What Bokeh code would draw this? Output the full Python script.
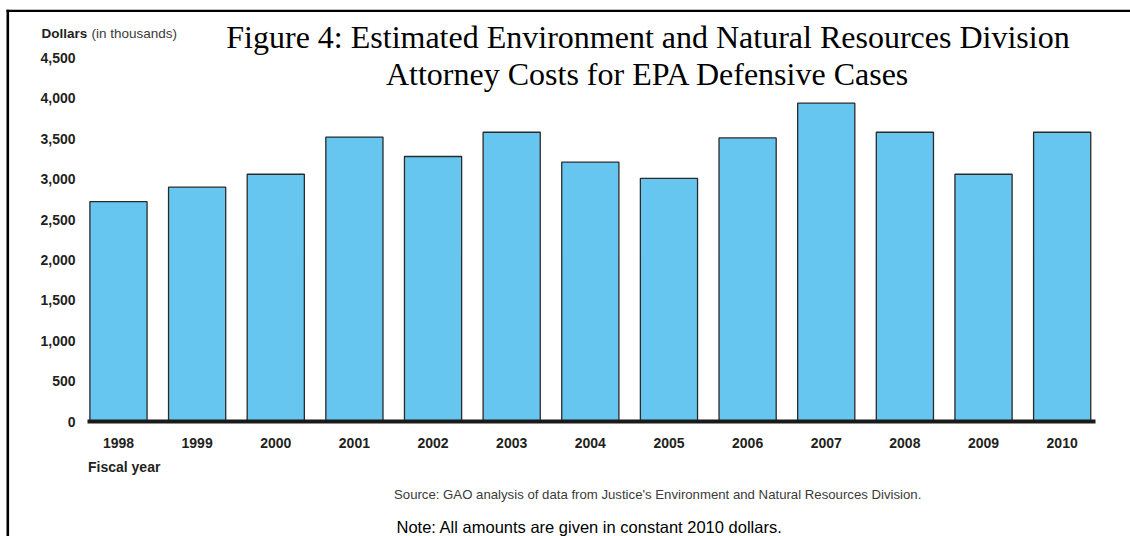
from bokeh.plotting import figure
from bokeh.models import Range1d, FixedTicker, NumeralTickFormatter, Label, BoxAnnotation
from bokeh.embed import file_html
from bokeh.resources import INLINE

# ---- data ----
years = ["1998", "1999", "2000", "2001", "2002", "2003", "2004",
         "2005", "2006", "2007", "2008", "2009", "2010"]
costs = [2720, 2900, 3060, 3520, 3280, 3580, 3210, 3010, 3510, 3940, 3580, 3060, 3580]
y_ticks = [0, 500, 1000, 1500, 2000, 2500, 3000, 3500, 4000, 4500]
title_line1 = "Figure 4: Estimated Environment and Natural Resources Division"
title_line2 = "Attorney Costs for EPA Defensive Cases"
y_label_bold = "Dollars"
y_label_rest = "(in thousands)"
x_label = "Fiscal year"
source_text = "Source: GAO analysis of data from Justice's Environment and Natural Resources Division."
note_text = "Note: All amounts are given in constant 2010 dollars."

x_pos = list(range(len(years)))

SANS = "Liberation Sans"
SERIF = "Liberation Serif"

# ---- layout (canvas pixels; canvas = whole page) ----
W, H = 1130, 536
PX_PER_X = 78.64          # pixels per category step
PX_PER_Y = 0.0808         # pixels per thousand dollars
AX_LEFT_PX = 87           # where the value axis sits
AX_BOTTOM_PX = 421        # where the category axis sits (from top)
AX_RIGHT_PX = 1095
X0 = -0.394               # data x at the value axis


def xd(px):
    return X0 + (px - AX_LEFT_PX) / PX_PER_X


def yd(py):
    return (AX_BOTTOM_PX - py) / PX_PER_Y


p = figure(width=W, height=H, output_backend="svg", toolbar_location=None,
           x_range=Range1d(xd(0), xd(W)), y_range=Range1d(yd(H), yd(0)),
           min_border=0)
p.min_border_left = 0
p.min_border_right = 0
p.min_border_top = 0
p.min_border_bottom = 0

p.vbar(x=x_pos, top=costs, bottom=0, width=0.727,
       fill_color="#66C6EF", line_color="#2a2a2a", line_width=1.3)

p.outline_line_color = None
p.xgrid.grid_line_color = None
p.ygrid.grid_line_color = None
p.background_fill_color = "white"
p.border_fill_color = "white"

# y axis
p.yaxis.fixed_location = X0
p.yaxis.bounds = (0, y_ticks[-1])
p.yaxis.ticker = FixedTicker(ticks=y_ticks)
p.yaxis.formatter = NumeralTickFormatter(format="0,0")
p.yaxis.axis_line_color = None
p.yaxis.major_tick_line_color = None
p.yaxis.minor_tick_line_color = None
p.yaxis.major_tick_out = 0
p.yaxis.major_label_standoff = 12
p.yaxis.major_label_text_font = SANS
p.yaxis.major_label_text_font_style = "bold"
p.yaxis.major_label_text_font_size = "14px"
p.yaxis.major_label_text_color = "#231F20"

# x axis
p.xaxis.fixed_location = 0
p.xaxis.bounds = (X0, xd(AX_RIGHT_PX))
p.xaxis.ticker = FixedTicker(ticks=x_pos)
p.xaxis.major_label_overrides = {i: y for i, y in zip(x_pos, years)}
p.xaxis.axis_line_color = "#1a1a1a"
p.xaxis.axis_line_width = 4
p.xaxis.major_tick_line_color = None
p.xaxis.minor_tick_line_color = None
p.xaxis.major_tick_out = 0
p.xaxis.major_label_standoff = 16
p.xaxis.major_label_text_font = SANS
p.xaxis.major_label_text_font_style = "bold"
p.xaxis.major_label_text_font_size = "14px"
p.xaxis.major_label_text_color = "#231F20"

# page border (only the top and left edges are visible)
p.add_layout(BoxAnnotation(left=xd(6), right=xd(W + 20), top=yd(9.2), bottom=yd(11.6),
                           fill_color="black", fill_alpha=1.0, line_color=None))
p.add_layout(BoxAnnotation(left=xd(6), right=xd(8.6), top=yd(9.2), bottom=yd(H + 20),
                           fill_color="black", fill_alpha=1.0, line_color=None))


def add_label(text, px, base, size_px, font=SANS, style="normal", align="left", color="#231F20"):
    # px: canvas x; base: canvas y of the text baseline
    p.add_layout(Label(x=px, y=H - (base - 0.35 * size_px), x_units="screen", y_units="screen",
                       text=text, text_font=font, text_font_style=style,
                       text_font_size=f"{size_px}px", text_align=align,
                       text_baseline="alphabetic", text_color=color))


add_label(title_line1, 647.5, 48, 32, font=SERIF, align="center", color="black")
add_label(title_line2, 647.5, 85, 32, font=SERIF, align="center", color="black")
add_label(y_label_bold, 41, 37.5, 13.5, style="bold")
add_label(y_label_rest, 91, 37.5, 13.5, color="#3a3a3a")
add_label(x_label, 87.5, 471.7, 14, style="bold")
add_label(source_text, 393.5, 498.5, 13.2, color="#3a3a3a")
add_label(note_text, 396, 532, 16.5, color="black")

open("out.html", "w").write(file_html(p, INLINE))
